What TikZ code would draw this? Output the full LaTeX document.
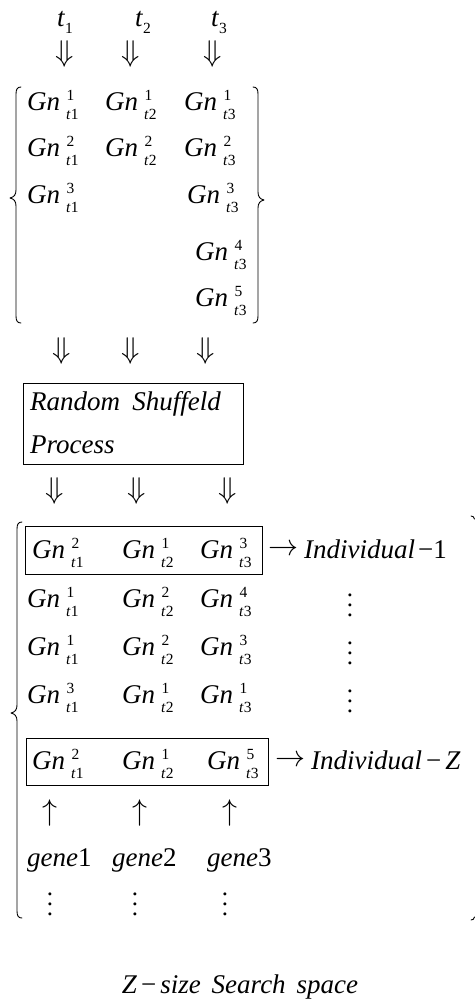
\documentclass[tikz,border=0pt]{standalone}
\usepackage{graphicx}
\usepackage{fontspec}
\setmainfont{Liberation Serif}
\newcommand\scr[1]{{\fontsize{15.5}{15.5}\selectfont #1}}
\newcommand\gn[2]{\textit{Gn}\hspace{6pt}\rlap{\raisebox{10pt}{\scr{\hspace{0.5pt}#1}}}\raisebox{-9pt}{\scr{\textit{t}#2}}}
\newcommand\tsub[1]{\textit{t}\raisebox{-7pt}{\scr{#1}}}
\newcommand\bigsym[2]{\scalebox{#1}{$#2$}}
\tikzset{
  txt/.style={anchor=base west, inner sep=0pt, font=\fontsize{27}{32}\selectfont},
  sym/.style={anchor=center, inner sep=0pt, font=\fontsize{27}{32}\selectfont},
  dn/.style={anchor=center, inner sep=0pt, font=\fontsize{10}{12}\selectfont},
  frame/.style={draw, line width=0.9pt},
  brace/.style={draw, line width=0.9pt, line cap=round, line join=round}
}
\begin{document}
\begin{tikzpicture}[x=1pt,y=-1pt]
\useasboundingbox (0,0) rectangle (476,1004);
% time labels
\node[txt] (t1) at (57,26) {\tsub{1}};
\node[txt] (t2) at (135,26) {\tsub{2}};
\node[txt] (t3) at (211,26) {\tsub{3}};
\node[dn] (d1) at (65,54) {\bigsym{3.0}{\Downarrow}};
\node[dn] (d2) at (131,54) {\bigsym{3.0}{\Downarrow}};
\node[dn] (d3) at (213,54) {\bigsym{3.0}{\Downarrow}};
% first matrix
\node[txt] (a11) at (27,110) {\gn{1}{1}};
\node[txt] (a12) at (105,110) {\gn{1}{2}};
\node[txt] (a13) at (184,110) {\gn{1}{3}};
\node[txt] (a21) at (27,156) {\gn{2}{1}};
\node[txt] (a22) at (105,156) {\gn{2}{2}};
\node[txt] (a23) at (184,156) {\gn{2}{3}};
\node[txt] (a31) at (27,203) {\gn{3}{1}};
\node[txt] (a33) at (187,203) {\gn{3}{3}};
\node[txt] (a43) at (195,260) {\gn{4}{3}};
\node[txt] (a53) at (195,306) {\gn{5}{3}};
\path[brace] (21,87) .. controls (17.5,87) and (16,89) .. (16,94) -- (16,190)
  .. controls (16,195) and (14,197) .. (10,198) .. controls (14,199) and (16,201) .. (16,206)
  -- (16,316) .. controls (16,321) and (17.5,323) .. (21,323);
\path[brace] (253,87) .. controls (256.5,87) and (258,89) .. (258,94) -- (258,192)
  .. controls (258,197) and (260,199) .. (264,200) .. controls (260,201) and (258,203) .. (258,208)
  -- (258,316) .. controls (258,321) and (256.5,323) .. (253,323);
% arrows into process
\node[dn] (e1) at (62,351) {\bigsym{3.0}{\Downarrow}};
\node[dn] (e2) at (131,351) {\bigsym{3.0}{\Downarrow}};
\node[dn] (e3) at (206,351) {\bigsym{3.0}{\Downarrow}};
\node[frame, minimum width=220pt, minimum height=81pt, inner sep=0pt] (proc) at (133,423.5) {};
\node[txt] (p1) at (30,410) {\textit{Random\hspace{0.45em}Shuffeld}};
\node[txt] (p2) at (30,453) {\textit{Process}};
\node[dn] (f1) at (55,491) {\bigsym{3.0}{\Downarrow}};
\node[dn] (f2) at (137,491) {\bigsym{3.0}{\Downarrow}};
\node[dn] (f3) at (228,491) {\bigsym{3.0}{\Downarrow}};
% second matrix
\node[frame, minimum width=237pt, minimum height=48pt, inner sep=0pt] (box1) at (143.5,550) {};
\node[txt] (b11) at (32,558) {\gn{2}{1}};
\node[txt] (b12) at (122,558) {\gn{1}{2}};
\node[txt] (b13) at (200,558) {\gn{3}{3}};
\node[dn] (r1) at (283,550) {\bigsym{3.0}{\rightarrow}};
\node[txt] (i1) at (304,558) {\textit{Individual}\hspace{3pt}−1};
\node[txt] (b21) at (27,607) {\gn{1}{1}};
\node[txt] (b22) at (122,607) {\gn{2}{2}};
\node[txt] (b23) at (200,607) {\gn{4}{3}};
\node[dn] (v2) at (350,598) {\bigsym{2.5}{\vdots}};
\node[txt] (b31) at (27,655) {\gn{1}{1}};
\node[txt] (b32) at (122,655) {\gn{2}{2}};
\node[txt] (b33) at (200,655) {\gn{3}{3}};
\node[dn] (v3) at (350,646) {\bigsym{2.5}{\vdots}};
\node[txt] (b41) at (27,703) {\gn{3}{1}};
\node[txt] (b42) at (122,703) {\gn{1}{2}};
\node[txt] (b43) at (200,703) {\gn{1}{3}};
\node[dn] (v4) at (350,694) {\bigsym{2.5}{\vdots}};
\node[frame, minimum width=242pt, minimum height=47pt, inner sep=0pt] (box2) at (147,761.5) {};
\node[txt] (b51) at (32,769) {\gn{2}{1}};
\node[txt] (b52) at (122,769) {\gn{1}{2}};
\node[txt] (b53) at (207,769) {\gn{5}{3}};
\node[dn] (r2) at (290,761) {\bigsym{3.0}{\rightarrow}};
\node[txt] (iz) at (311,769) {\textit{Individual}\hspace{4pt}−\hspace{4pt}\textit{Z}};
\node[dn] (u1) at (50,813) {\bigsym{3.0}{\uparrow}};
\node[dn] (u2) at (140,813) {\bigsym{3.0}{\uparrow}};
\node[dn] (u3) at (230,813) {\bigsym{3.0}{\uparrow}};
\node[txt] (g1) at (27,866) {\textit{gene}1};
\node[txt] (g2) at (112,866) {\textit{gene}2};
\node[txt] (g3) at (207,866) {\textit{gene}3};
\node[dn] (w1) at (50,897) {\bigsym{2.5}{\vdots}};
\node[dn] (w2) at (135,897) {\bigsym{2.5}{\vdots}};
\node[dn] (w3) at (225,897) {\bigsym{2.5}{\vdots}};
\path[brace] (22,522) .. controls (18.5,522) and (17,524) .. (17,529) -- (17,705)
  .. controls (17,710) and (15,712) .. (11,713) .. controls (15,714) and (17,716) .. (17,721)
  -- (17,911) .. controls (17,916) and (18.5,918) .. (22,918);
\path[brace] (471,516) .. controls (473,516) and (474,517) .. (474.5,519);
\path[brace] (471,920) .. controls (473,920) and (474,919) .. (474.5,917);
% caption
\node[sym, anchor=base] (cap) at (240,993) {\textit{Z}\hspace{4pt}−\hspace{4pt}\textit{size}\hspace{0.4em}\textit{Search}\hspace{0.4em}\textit{space}};
\end{tikzpicture}
\end{document}
